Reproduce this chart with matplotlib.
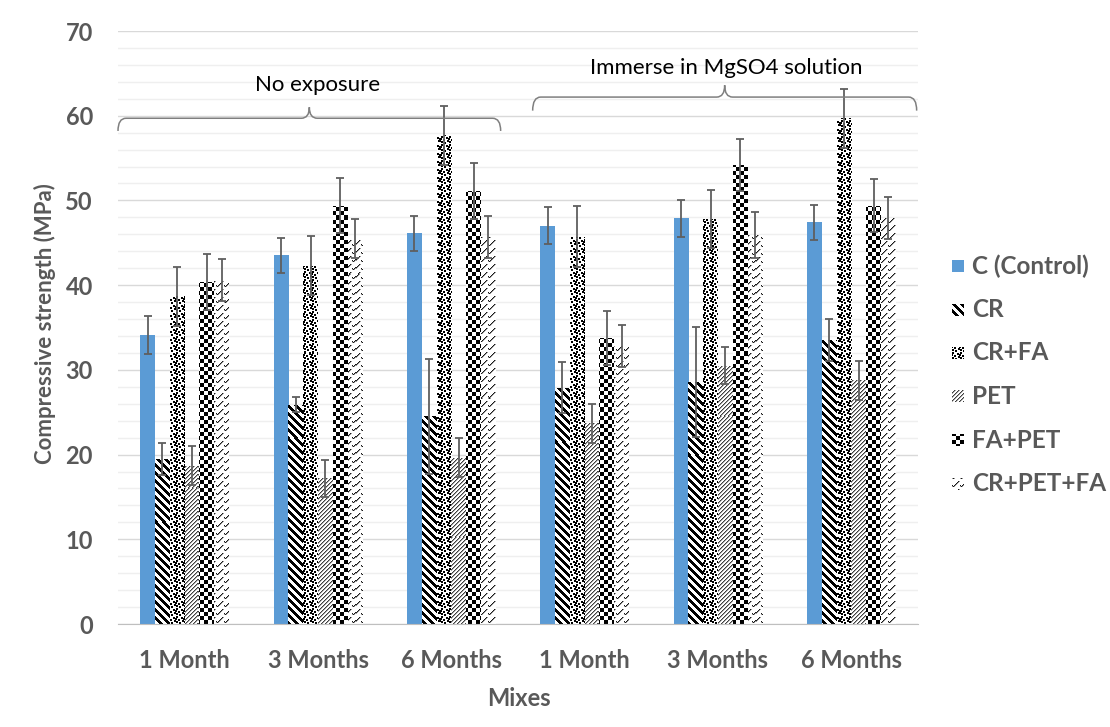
import numpy as np
import matplotlib
matplotlib.use("Agg")
import matplotlib.pyplot as plt
from matplotlib.path import Path
from matplotlib.patches import PathPatch

# ---- data -------------------------------------------------------------
groups = ["1 Month", "3 Months", "6 Months", "1 Month", "3 Months", "6 Months"]
series = ["C (Control)", "CR", "CR+FA", "PET", "FA+PET", "CR+PET+FA"]

c_control = [34.1, 43.5, 46.1, 47.0, 47.9, 47.4]
c_control_err = [2.2, 2.1, 2.1, 2.2, 2.2, 2.1]
cr = [19.5, 25.9, 24.5, 27.9, 28.6, 33.5]
cr_err = [1.9, 0.9, 6.8, 3.0, 6.5, 2.5]
cr_fa = [38.7, 42.3, 57.7, 45.7, 47.8, 59.7]
cr_fa_err = [3.5, 3.5, 3.5, 3.6, 3.4, 3.5]
pet = [18.7, 17.2, 19.6, 23.7, 30.5, 28.8]
pet_err = [2.3, 2.2, 2.3, 2.3, 2.2, 2.3]
fa_pet = [40.4, 49.4, 51.1, 33.8, 54.2, 49.4]
fa_pet_err = [3.3, 3.2, 3.3, 3.2, 3.1, 3.1]
cr_pet_fa = [40.6, 45.5, 45.7, 32.8, 45.9, 47.9]
cr_pet_fa_err = [2.5, 2.3, 2.5, 2.5, 2.7, 2.5]

values = [c_control, cr, cr_fa, pet, fa_pet, cr_pet_fa]
errors = [c_control_err, cr_err, cr_fa_err, pet_err, fa_pet_err, cr_pet_fa_err]

section_labels = ["No exposure", "Immerse in MgSO4 solution"]

# ---- styling ----------------------------------------------------------
FONT = "Lato"
TEXT_GREY = "#595959"
BLUE = "#5b9bd5"
W_PX, H_PX = 1110, 727
DPI = 100


# Fill textures, defined on absolute figure pixels so patterns line up
def tex_solid_blue(X, Y):
    rgb = np.array(matplotlib.colors.to_rgb(BLUE))
    return np.broadcast_to(rgb, X.shape + (3,)).copy()


def _grey(v):
    return np.repeat(v[..., None], 3, axis=2)


def tex_wide_down_diag(X, Y):
    return _grey(np.where(((X - Y) % 8) < 4, 0.0, 1.0))


_confetti = np.ones((8, 8))
for r, c in [(0, 0), (1, 5), (3, 2), (4, 6), (5, 0), (6, 3), (2, 7)]:
    for dr in (0, 1):
        for dc in (0, 1):
            _confetti[(r + dr) % 8, (c + dc) % 8] = 0.0


def tex_confetti(X, Y):
    return _grey(_confetti[Y % 8, X % 8])


def tex_light_up_diag(X, Y):
    k = (X + Y) % 4
    v = np.where(k == 0, 0.25, np.where(k == 1, 0.65, 1.0))
    return _grey(v)


def tex_checker(X, Y):
    return _grey(np.where(((X // 4) + (Y // 4)) % 2 == 0, 0.0, 1.0))


_zig = np.ones((8, 8))
for c, r in [(0, 5), (1, 6), (2, 5), (3, 4), (4, 3), (5, 2), (6, 1)]:
    _zig[r, c] = 0.1
for c, r in [(0, 6), (2, 6), (3, 5), (4, 4), (5, 3), (6, 2), (7, 1)]:
    _zig[r, c] = min(_zig[r, c], 0.6)


def tex_zigzag(X, Y):
    return _grey(_zig[Y % 8, X % 8])


textures = [tex_solid_blue, tex_wide_down_diag, tex_confetti,
            tex_light_up_diag, tex_checker, tex_zigzag]


def texture_block(func, x0, y0_top, w, h):
    cols = np.arange(x0, x0 + w)
    rows = np.arange(y0_top, y0_top + h)
    X, Y = np.meshgrid(cols, rows)
    return func(X, Y)


# ---- figure -----------------------------------------------------------
fig = plt.figure(figsize=(W_PX / DPI, H_PX / DPI), dpi=DPI)
ax = fig.add_axes([118 / W_PX, 1 - 624 / H_PX, 800 / W_PX, 593 / H_PX])
ax.set_xlim(-0.5, len(groups) - 0.5)
ax.set_ylim(0, 70)
ax.set_autoscale_on(False)

ax.set_yticks(np.arange(0, 71, 10))
ax.set_yticks(np.arange(0, 71, 2), minor=True)
ax.grid(which="major", axis="y", color="#d9d9d9", lw=1.0, zorder=0)
ax.grid(which="minor", axis="y", color="#efefef", lw=1.0, zorder=0)
ax.set_axisbelow(True)
for s in ["top", "right", "left"]:
    ax.spines[s].set_visible(False)
ax.spines["bottom"].set_color("#bfbfbf")
ax.spines["bottom"].set_zorder(4)

x = np.arange(len(groups))
bw = 0.111
for k, (vals, errs, tex) in enumerate(zip(values, errors, textures)):
    pos = x + (k - 2.5) * bw
    bars = ax.bar(pos, vals, bw, color="white", linewidth=0, zorder=2)
    for bar in bars:
        bb = bar.get_window_extent()
        px0, px1 = int(np.floor(bb.x0)), int(np.ceil(bb.x1))
        py0, py1 = int(np.floor(bb.y0)), int(np.ceil(bb.y1))
        img = texture_block(tex, px0, H_PX - py1, px1 - px0, py1 - py0)
        inv = ax.transData.inverted()
        (dx0, dy0), (dx1, dy1) = inv.transform([(px0, py0), (px1, py1)])
        im = ax.imshow(img, extent=(dx0, dx1, dy0, dy1), aspect="auto",
                       interpolation="nearest", zorder=2.1)
        im.set_clip_path(bar)
    ax.errorbar(pos, vals, yerr=errs, fmt="none", ecolor="#5f5f5f",
                elinewidth=1.3, capsize=3, capthick=1.3, zorder=3)

ax.set_xlim(-0.5, len(groups) - 0.5)
ax.set_ylim(0, 70)

ax.set_xticks(x)
ax.set_xticklabels(groups)
ax.tick_params(axis="both", which="both", length=0, labelsize=17,
               labelcolor=TEXT_GREY)
ax.tick_params(axis="x", pad=18)
ax.tick_params(axis="y", pad=18)
for lab in ax.get_xticklabels() + ax.get_yticklabels():
    lab.set_fontfamily(FONT)
    lab.set_fontweight("bold")

fig.text(519 / W_PX, 1 - 698 / H_PX, "Mixes", ha="center", va="center",
         fontsize=17, fontweight="bold", color=TEXT_GREY, family=FONT)
fig.text(45 / W_PX, 1 - 324 / H_PX, "Compressive strength (MPa)",
         ha="center", va="center", rotation=90, fontsize=16,
         fontweight="bold", color=TEXT_GREY, family=FONT)


# ---- curly braces over the two exposure conditions --------------------
def brace(ax, x0, x1, y_line, y_end, y_tip, r=0.06, **kw):
    xm = 0.5 * (x0 + x1)
    verts = [(x0, y_end), (x0, y_line), (x0 + r, y_line),
             (xm - r, y_line),
             (xm, y_line), (xm, y_tip),
             (xm, y_line), (xm + r, y_line),
             (x1 - r, y_line),
             (x1, y_line), (x1, y_end)]
    codes = [Path.MOVETO, Path.CURVE3, Path.CURVE3,
             Path.LINETO,
             Path.CURVE3, Path.CURVE3,
             Path.CURVE3, Path.CURVE3,
             Path.LINETO,
             Path.CURVE3, Path.CURVE3]
    ax.add_patch(PathPatch(Path(verts, codes), fill=False, clip_on=False, **kw))


brace(ax, -0.5, 2.37, 59.7, 58.2, 61.0, color="#7f7f7f", lw=1.1, zorder=5)
brace(ax, 2.61, 5.49, 62.2, 60.6, 63.6, color="#7f7f7f", lw=1.1, zorder=5)
ax.text(1.0, 63.6, section_labels[0], ha="center", va="center",
        fontsize=16, color="black", family=FONT, zorder=5)
ax.text(4.06, 65.6, section_labels[1], ha="center", va="center",
        fontsize=16, color="black", family=FONT, zorder=5)

# ---- legend -----------------------------------------------------------
for k, (name, tex) in enumerate(zip(series, textures)):
    yc = 266 + 43.5 * k
    top = int(round(yc - 6))
    sw = texture_block(tex, 952, top, 12, 12)
    fig.figimage(sw, xo=952, yo=H_PX - top - 12, zorder=5)
    fig.text(972 / W_PX, 1 - yc / H_PX, name, ha="left", va="center",
             fontsize=17.5, fontweight="bold", color=TEXT_GREY, family=FONT)

fig.savefig("out.png", dpi=DPI)
